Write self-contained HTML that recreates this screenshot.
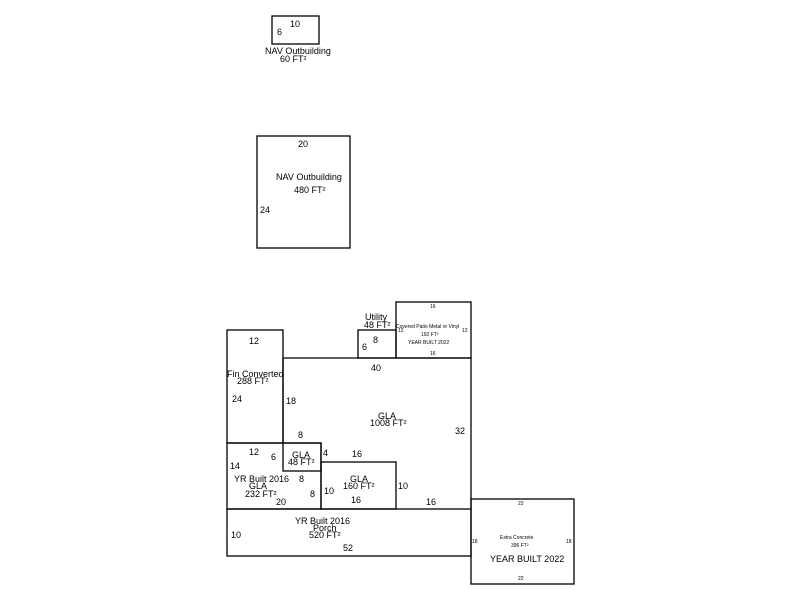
<!DOCTYPE html>
<html><head><style>body{margin:0;background:#fff}svg{display:block}text{font-family:"Liberation Sans",sans-serif;fill:#000}</style></head>
<body>
<svg width="800" height="600" xmlns="http://www.w3.org/2000/svg">
<g fill="none" stroke="#000" stroke-width="1.3">
<rect x="272" y="16" width="47" height="28"/>
<rect x="257" y="136" width="93" height="112"/>
<rect x="227" y="330" width="56" height="113"/>
<path d="M283 443 V358 H471 V509"/>
<rect x="358" y="330" width="38" height="28"/>
<rect x="396" y="302" width="75" height="56"/>
<rect x="283" y="443" width="38" height="28"/>
<rect x="321" y="462" width="75" height="47"/>
<rect x="227" y="443" width="94" height="66"/>
<rect x="227" y="509" width="244" height="47"/>
<rect x="471" y="499" width="103" height="85"/>
</g>
<g font-size="9">
<text x="290" y="27">10</text><text x="277" y="35">6</text>
<text x="265" y="54">NAV Outbuilding</text><text x="280" y="62">60 FT²</text>
<text x="298" y="147">20</text>
<text x="276" y="180">NAV Outbuilding</text><text x="294" y="193">480 FT²</text>
<text x="260" y="213">24</text>
<text x="249" y="344">12</text>
<text x="227" y="377">Fin Converted</text><text x="237" y="384">288 FT²</text>
<text x="232" y="402">24</text><text x="286" y="404">18</text><text x="298" y="438">8</text>
<text x="365" y="320">Utility</text><text x="364" y="328">48 FT²</text>
<text x="373" y="343">8</text><text x="362" y="350">6</text>
<text x="371" y="371">40</text>
<text x="378" y="419">GLA</text><text x="370" y="426">1008 FT²</text>
<text x="455" y="434">32</text>
<text x="249" y="455">12</text><text x="271" y="460">6</text><text x="230" y="469">14</text>
<text x="292" y="458">GLA</text><text x="288" y="465">48 FT²</text>
<text x="323" y="456">4</text><text x="352" y="457">16</text>
<text x="234" y="482">YR Built 2016</text><text x="299" y="482">8</text>
<text x="249" y="489">GLA</text><text x="245" y="497">232 FT²</text><text x="276" y="505">20</text>
<text x="310" y="497">8</text><text x="324" y="494">10</text>
<text x="350" y="482">GLA</text><text x="343" y="489">160 FT²</text>
<text x="351" y="503">16</text><text x="398" y="489">10</text><text x="426" y="505">16</text>
<text x="295" y="524">YR Built 2016</text><text x="313" y="531">Porch</text><text x="309" y="538">520 FT²</text>
<text x="231" y="538">10</text><text x="343" y="551">52</text>
<text x="490" y="562">YEAR BUILT 2022</text>
</g>
<g font-size="5">
<text x="430" y="308">16</text>
<text x="396" y="328">Covered Patio Metal or Vinyl</text>
<text x="421" y="336">192 FT²</text>
<text x="408" y="344">YEAR BUILT 2022</text>
<text x="430" y="355">16</text>
<text x="398" y="332">12</text><text x="462" y="332">12</text>
<text x="518" y="505">22</text><text x="518" y="580">22</text>
<text x="500" y="539">Extra Concrete</text><text x="511" y="547">396 FT²</text>
<text x="472" y="543">18</text><text x="566" y="543">18</text>
</g>
</svg>
</body></html>
